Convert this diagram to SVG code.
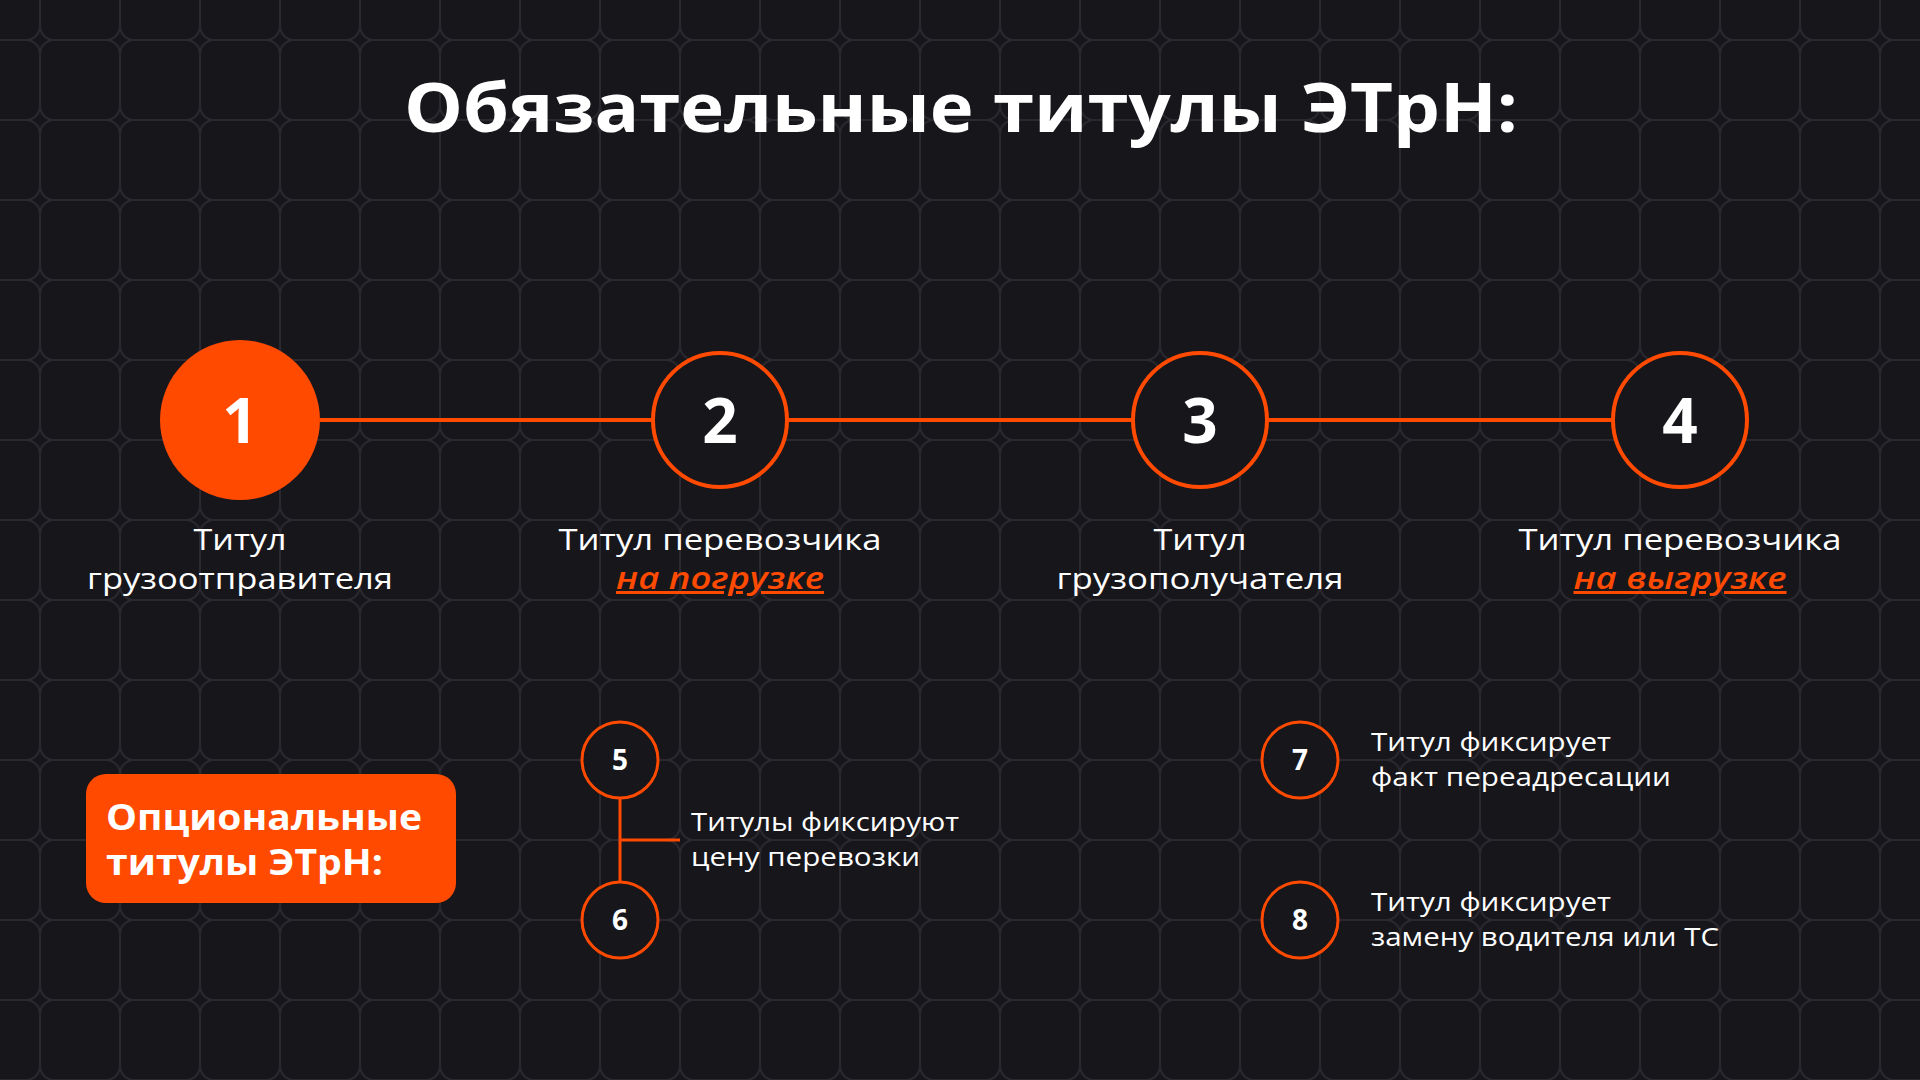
<svg xmlns="http://www.w3.org/2000/svg" width="1920" height="1080" viewBox="0 0 1920 1080">
  <defs>
    <pattern id="grid" patternUnits="userSpaceOnUse" x="40" y="40" width="80" height="80">
      <rect x="0" y="0" width="80" height="80" rx="14" ry="14" fill="none" stroke="#2a292f" stroke-width="2"/>
    </pattern>
    <style>
      .bg { fill: #17161b; }
      text { font-family: "Open Sans", "Liberation Sans", sans-serif; }
      .title { font-weight: 700; font-size: 68px; fill: #ffffff; }
      .num-big { font-weight: 700; font-size: 62px; fill: #ffffff; }
      .num-small { font-weight: 700; font-size: 28px; fill: #ffffff; }
      .label { font-weight: 400; font-size: 30px; fill: #ffffff; }
      .accent { font-weight: 600; font-style: italic; font-size: 30px; fill: #ff4a00; text-decoration: underline; }
      .desc { font-weight: 400; font-size: 26px; fill: #ffffff; }
      .box-text { font-weight: 700; font-size: 36px; fill: #ffffff; }
      .ring-big { fill: #17161b; stroke: #ff4a00; stroke-width: 4; }
      .ring-small { fill: #17161b; stroke: #ff4a00; stroke-width: 3; }
      .conn { stroke: #ff4a00; stroke-width: 4; fill: none; }
      .conn-thin { stroke: #ff4a00; stroke-width: 3; fill: none; }
    </style>
  </defs>
  <rect class="bg" x="0" y="0" width="1920" height="1080"/>
  <rect x="0" y="0" width="1920" height="1080" fill="url(#grid)"/>

  <text class="title" x="961" y="132" text-anchor="middle" textLength="1114" lengthAdjust="spacingAndGlyphs">Обязательные титулы ЭТрН:</text>

  <g id="connectors">
    <line class="conn" x1="320" y1="420" x2="653" y2="420"/>
    <line class="conn" x1="787" y1="420" x2="1133" y2="420"/>
    <line class="conn" x1="1267" y1="420" x2="1613" y2="420"/>
    <line class="conn-thin" x1="620" y1="799" x2="620" y2="881"/>
    <line class="conn-thin" x1="620" y1="840" x2="680" y2="840"/>
  </g>

  <g id="node1">
    <circle cx="240" cy="420" r="80" fill="#ff4a00"/>
    <text class="num-big" x="240" y="443" text-anchor="middle">1</text>
    <text class="label" x="240" y="550" text-anchor="middle" textLength="93" lengthAdjust="spacingAndGlyphs">Титул</text>
    <text class="label" x="240" y="589" text-anchor="middle" textLength="306" lengthAdjust="spacingAndGlyphs">грузоотправителя</text>
  </g>
  <g id="node2">
    <circle class="ring-big" cx="720" cy="420" r="67"/>
    <text class="num-big" x="720" y="443" text-anchor="middle">2</text>
    <text class="label" x="720" y="550" text-anchor="middle" textLength="323" lengthAdjust="spacingAndGlyphs">Титул перевозчика</text>
    <text class="accent" x="720" y="589" text-anchor="middle" textLength="208" lengthAdjust="spacingAndGlyphs">на погрузке</text>
  </g>
  <g id="node3">
    <circle class="ring-big" cx="1200" cy="420" r="67"/>
    <text class="num-big" x="1200" y="443" text-anchor="middle">3</text>
    <text class="label" x="1200" y="550" text-anchor="middle" textLength="93" lengthAdjust="spacingAndGlyphs">Титул</text>
    <text class="label" x="1200" y="589" text-anchor="middle" textLength="287" lengthAdjust="spacingAndGlyphs">грузополучателя</text>
  </g>
  <g id="node4">
    <circle class="ring-big" cx="1680" cy="420" r="67"/>
    <text class="num-big" x="1680" y="443" text-anchor="middle">4</text>
    <text class="label" x="1680" y="550" text-anchor="middle" textLength="323" lengthAdjust="spacingAndGlyphs">Титул перевозчика</text>
    <text class="accent" x="1680" y="589" text-anchor="middle" textLength="213" lengthAdjust="spacingAndGlyphs">на выгрузке</text>
  </g>

  <g id="optional-box">
    <rect x="86" y="774" width="370" height="129" rx="20" ry="20" fill="#ff4a00"/>
    <text class="box-text" x="106" y="830" textLength="316" lengthAdjust="spacingAndGlyphs">Опциональные</text>
    <text class="box-text" x="106" y="875" textLength="277" lengthAdjust="spacingAndGlyphs">титулы ЭТрН:</text>
  </g>

  <g id="node5">
    <circle class="ring-small" cx="620" cy="760" r="38"/>
    <text class="num-small" x="620" y="770" text-anchor="middle">5</text>
  </g>
  <g id="node6">
    <circle class="ring-small" cx="620" cy="920" r="38"/>
    <text class="num-small" x="620" y="930" text-anchor="middle">6</text>
  </g>
  <g id="label56">
    <text class="desc" x="691" y="831" textLength="268" lengthAdjust="spacingAndGlyphs">Титулы фиксируют</text>
    <text class="desc" x="691" y="866" textLength="229" lengthAdjust="spacingAndGlyphs">цену перевозки</text>
  </g>

  <g id="node7">
    <circle class="ring-small" cx="1300" cy="760" r="38"/>
    <text class="num-small" x="1300" y="770" text-anchor="middle">7</text>
    <text class="desc" x="1371" y="751" textLength="240" lengthAdjust="spacingAndGlyphs">Титул фиксирует</text>
    <text class="desc" x="1371" y="786" textLength="300" lengthAdjust="spacingAndGlyphs">факт переадресации</text>
  </g>
  <g id="node8">
    <circle class="ring-small" cx="1300" cy="920" r="38"/>
    <text class="num-small" x="1300" y="930" text-anchor="middle">8</text>
    <text class="desc" x="1371" y="911" textLength="240" lengthAdjust="spacingAndGlyphs">Титул фиксирует</text>
    <text class="desc" x="1371" y="946" textLength="348" lengthAdjust="spacingAndGlyphs">замену водителя или ТС</text>
  </g>
</svg>
